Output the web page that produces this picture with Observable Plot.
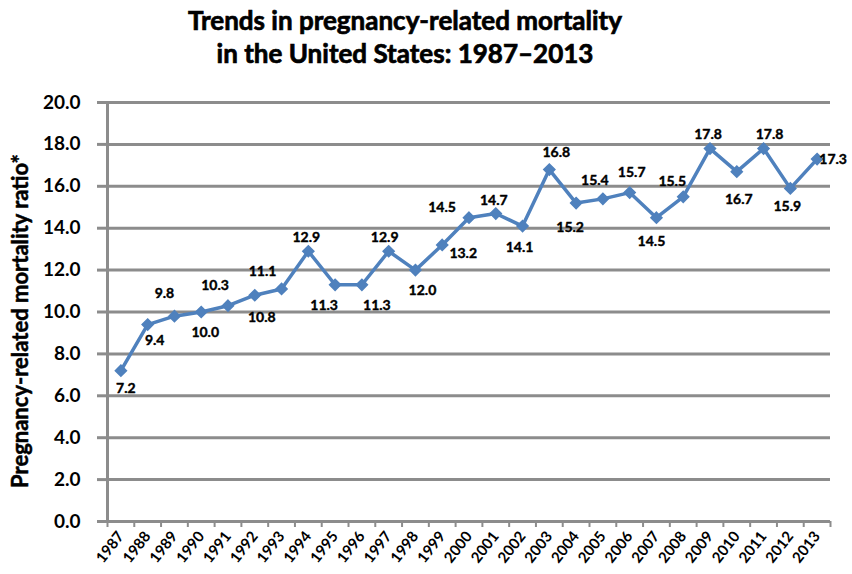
<!DOCTYPE html>
<html><head><meta charset="utf-8">
<script src="https://cdn.jsdelivr.net/npm/d3@7"></script>
<script src="https://cdn.jsdelivr.net/npm/@observablehq/plot@0.6"></script>
<style>
body{margin:0;background:#fff;font-family:Lato,"Open Sans",sans-serif;}
#title{width:852px;height:80px;box-sizing:border-box;padding-top:4px;padding-right:42px;text-align:center;font-weight:bold;font-size:26px;line-height:33px;color:#000;-webkit-text-stroke:0.7px #000;}
</style></head><body>
<div id="title">Trends in pregnancy-related mortality<br>in the United States: 1987–2013</div>
<div id="chart"></div>
<script>
const years = [1987,1988,1989,1990,1991,1992,1993,1994,1995,1996,1997,1998,1999,2000,2001,2002,2003,2004,2005,2006,2007,2008,2009,2010,2011,2012,2013];
const ratios = [7.2,9.4,9.8,10.0,10.3,10.8,11.1,12.9,11.3,11.3,12.9,12.0,13.2,14.5,14.7,14.1,16.8,15.2,15.4,15.7,14.5,15.5,17.8,16.7,17.8,15.9,17.3];
const yTicks = [0,2,4,6,8,10,12,14,16,18,20];
const yLabel = "Pregnancy-related mortality ratio*";

// label placement offsets (style config)
const offsets = {
  1987:[5,18],1988:[7,16],1989:[-10,-23],1990:[4,21],1991:[-13,-20],1992:[7,22],1993:[-19,-17],
  1994:[-2,-14],1995:[-11,21],1996:[15,21],1997:[-4,-14],1998:[7,20],1999:[21,9],2000:[-27,-10],
  2001:[-2,-13],2002:[-3,21],2003:[7,-17],2004:[-6,24],2005:[-8,-18],2006:[2,-20],2007:[-5,24],
  2008:[-11,-15],2009:[-2,-14],2010:[2,28],2011:[6,-14],2012:[-3,18],2013:[16,0]
};

const data = years.map((y,i)=>({year:y, value:ratios[i]}));
const boundaries = d3.range(years.length+1).map(i=>years[0]-0.5+i);
const gray = "#8c8c8c";
const blue = "#4f81bd";

const labelMarks = data.map(d => Plot.text([d], {
  x:"year", y:"value", text:d => d.value.toFixed(1),
  dx: offsets[d.year][0], dy: offsets[d.year][1],
  fontSize:14, fontWeight:"bold", fill:"#000", stroke:"#000", strokeWidth:0.4,
  textAnchor:"middle", lineAnchor:"middle"
}));

const chart = Plot.plot({
  width:852, height:494,
  marginTop:22, marginBottom:53, marginLeft:107, marginRight:22,
  style:{fontFamily:"Lato, 'Open Sans', sans-serif", background:"#fff", color:"#000"},
  x:{type:"linear", domain:[years[0]-0.5, years[years.length-1]+0.5]},
  y:{domain:[0,20]},
  marks:[
    Plot.gridY(yTicks, {stroke:gray, strokeWidth:3, strokeOpacity:1}),
    Plot.axisY({ticks:yTicks, tickFormat:d3.format(".1f"), tickSize:10, tickPadding:17,
      stroke:gray, strokeWidth:3, fontSize:19, fontWeight:"bold", fill:"#000", label:null}),
    Plot.text([yLabel], {frameAnchor:"left", rotate:-90, dx:-87, dy:9, fontSize:22, fontWeight:"bold",
      fill:"#000", stroke:"#000", strokeWidth:0.5, textAnchor:"middle", lineAnchor:"middle"}),
    Plot.axisX({ticks:boundaries, tickSize:6, tickFormat:()=>"", stroke:gray, strokeWidth:2, label:null}),
    Plot.axisX({ticks:years, tickSize:0, tickPadding:12, tickRotate:-52, tickFormat:d=>String(d),
      fontSize:15, fontWeight:"bold", fill:"#000", label:null}),
    Plot.ruleX([years[0]-0.5], {stroke:gray, strokeWidth:3}),
    Plot.ruleY([0], {stroke:gray, strokeWidth:3}),
    Plot.line(data, {x:"year", y:"value", stroke:blue, strokeWidth:3.5}),
    Plot.dot(data, {x:"year", y:"value", symbol:"diamond2", r:5, fill:blue, stroke:blue}),
    ...labelMarks
  ]
});
document.getElementById("chart").appendChild(chart);
</script>
</body></html>
